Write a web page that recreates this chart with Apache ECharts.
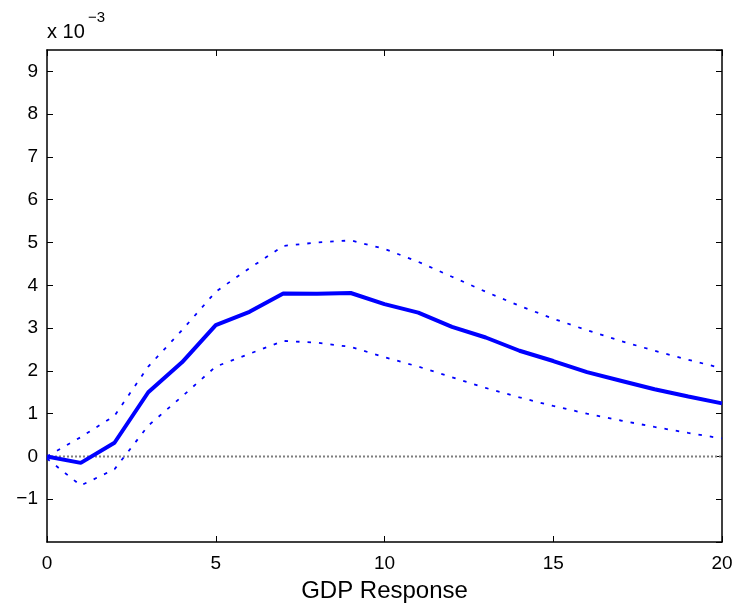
<!DOCTYPE html>
<html>
<head>
<meta charset="utf-8">
<script src="https://cdn.jsdelivr.net/npm/echarts@6/dist/echarts.min.js"></script>
<style>html,body{margin:0;padding:0;background:#fff;}#c{width:738px;height:608px;}</style>
</head>
<body>
<div id="c"></div>
<script>
var horizons = [0,1,2,3,4,5,6,7,8,9,10,11,12,13,14,15,16,17,18,19,20];
var response = [0.00,-0.15,0.32,1.50,2.20,3.07,3.38,3.81,3.80,3.82,3.56,3.36,3.03,2.78,2.47,2.23,1.97,1.77,1.57,1.40,1.24];
var upperBand = [0.00,0.45,0.95,2.10,2.95,3.85,4.40,4.92,5.00,5.05,4.85,4.55,4.20,3.85,3.52,3.22,2.95,2.70,2.47,2.26,2.06];
var lowerBand = [-0.05,-0.68,-0.30,0.72,1.40,2.10,2.40,2.70,2.66,2.56,2.32,2.10,1.85,1.60,1.38,1.18,1.00,0.84,0.69,0.55,0.42];
var zeroLine = [0,0,0,0,0,0,0,0,0,0,0,0,0,0,0,0,0,0,0,0,0];
var xTicks = [0,5,10,15,20];
var yTicks = [-1,0,1,2,3,4,5,6,7,8,9];

function pairs(ys){ return horizons.map(function(x,i){ return [x, ys[i]]; }); }
function fmtY(v){ if (yTicks.indexOf(v) < 0) return ''; return v < 0 ? '\u2212' + Math.abs(v) : String(v); }

var font = 'Liberation Sans, Arial, Helvetica, sans-serif';
var chart = echarts.init(document.getElementById('c'), null, {renderer:'canvas'});
var axisLineStyle = {color:'#000', width:1.5};
chart.setOption({
  animation:false,
  backgroundColor:'#fff',
  graphic:[
    {type:'text', left:47, top:22, silent:true,
     style:{text:'x 10', font:'20px ' + font, fill:'#000'}},
    {type:'text', left:88, top:10, silent:true,
     style:{text:'\u22123', font:'15px ' + font, fill:'#000'}}
  ],
  grid:{left:47, right:16, top:50, bottom:66, containLabel:false, outerBoundsMode:'none'},
  xAxis:[{
    type:'value', min:0, max:20, interval:5, position:'bottom',
    name:'GDP Response', nameLocation:'middle', nameGap:37,
    nameTextStyle:{fontFamily:font, fontSize:24, color:'#000'},
    axisLine:{show:true, onZero:false, lineStyle:axisLineStyle},
    axisTick:{show:true, inside:true, length:6, lineStyle:{color:'#000', width:1}},
    axisLabel:{fontFamily:font, fontSize:19, color:'#000', margin:12},
    splitLine:{show:false}
  },{
    type:'value', min:0, max:20, interval:5, position:'top',
    axisLine:{show:true, onZero:false, lineStyle:axisLineStyle},
    axisTick:{show:true, inside:true, length:6, lineStyle:{color:'#000', width:1}},
    axisLabel:{show:false}, splitLine:{show:false}
  }],
  yAxis:[{
    type:'value', min:-2, max:9.5, interval:1, position:'left',
    axisLine:{show:true, onZero:false, lineStyle:axisLineStyle},
    axisTick:{show:true, inside:true, length:6, lineStyle:{color:'#000', width:1}},
    axisLabel:{fontFamily:font, fontSize:19, color:'#000', margin:9, formatter:fmtY, showMinLabel:false, showMaxLabel:false},
    splitLine:{show:false}
  },{
    type:'value', min:-2, max:9.5, interval:1, position:'right',
    axisLine:{show:true, onZero:false, lineStyle:axisLineStyle},
    axisTick:{show:true, inside:true, length:6, lineStyle:{color:'#000', width:1}},
    axisLabel:{show:false}, splitLine:{show:false}
  }],
  series:[
    {type:'line', data:pairs(zeroLine), symbol:'none', silent:true,
     lineStyle:{color:'#7f7f7f', width:2, type:[2,2]}},
    {type:'line', data:pairs(upperBand), symbol:'none', silent:true,
     lineStyle:{color:'#0000ff', width:1.8, type:[3.5,8]}},
    {type:'line', data:pairs(lowerBand), symbol:'none', silent:true,
     lineStyle:{color:'#0000ff', width:1.8, type:[3.5,8]}},
    {type:'line', data:pairs(response), symbol:'none', silent:true,
     lineStyle:{color:'#0000ff', width:4}}
  ]
});
</script>
</body>
</html>
